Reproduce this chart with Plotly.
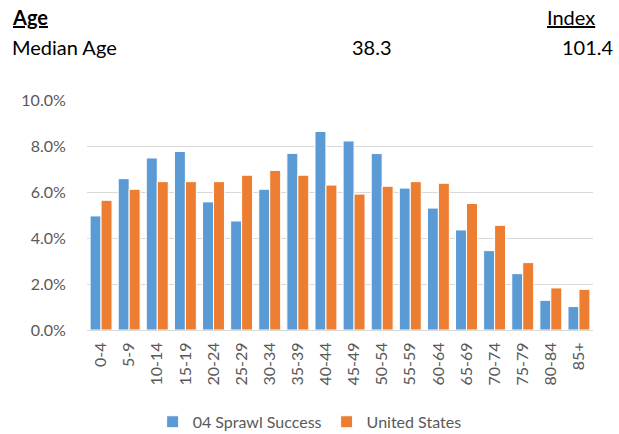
import plotly.graph_objects as go

categories = ["0-4", "5-9", "10-14", "15-19", "20-24", "25-29", "30-34", "35-39", "40-44",
              "45-49", "50-54", "55-59", "60-64", "65-69", "70-74", "75-79", "80-84", "85+"]
sprawl = [4.96, 6.58, 7.48, 7.76, 5.57, 4.74, 6.12, 7.68, 8.63,
          8.22, 7.67, 6.17, 5.30, 4.35, 3.45, 2.45, 1.29, 1.02]
us = [5.64, 6.12, 6.45, 6.45, 6.45, 6.73, 6.94, 6.73, 6.30,
      5.91, 6.25, 6.45, 6.38, 5.50, 4.55, 2.93, 1.83, 1.77]
sprawl = [v / 100 for v in sprawl]
us = [v / 100 for v in us]

series_names = ["04 Sprawl Success", "United States"]
colors = ["#5B9BD5", "#ED7D31"]
median_age = "38.3"
index_val = "101.4"

FONT = "Lato"
GRAY = "#595959"

fig = go.Figure()
for name, vals, c in zip(series_names, [sprawl, us], colors):
    fig.add_trace(go.Bar(x=categories, y=vals, name=name, marker_color=c,
                         marker_line_color="white", marker_line_width=1))

fig.update_layout(
    width=619, height=434,
    margin=dict(l=87, r=26, t=100, b=104, autoexpand=False),
    plot_bgcolor="white", paper_bgcolor="white",
    barmode="group", bargap=0.22, bargroupgap=0.0,
    font=dict(family=FONT, color=GRAY, size=16),
    showlegend=True,
    legend=dict(orientation="h", x=0.44, xanchor="center", yref="container",
                y=0.028, yanchor="middle",
                font=dict(family=FONT, size=16, color=GRAY), itemwidth=30,
                traceorder="normal"),
    xaxis=dict(tickangle=-90, showgrid=False, showline=True, linecolor="#D9D9D9",
               ticks="outside", ticklen=5, tickcolor="rgba(0,0,0,0)", automargin=False,
               tickfont=dict(family=FONT, size=16, color=GRAY)),
    yaxis=dict(range=[0, 0.1], dtick=0.02, tickformat=".1%", showgrid=True,
               gridcolor="#D9D9D9", gridwidth=1, zeroline=False, showline=False,
               ticks="outside", ticklen=17, tickcolor="rgba(0,0,0,0)", automargin=False,
               tickfont=dict(family=FONT, size=16, color=GRAY)),
)

hdr = dict(family=FONT, size=20, color="#000000")
ann = [
    dict(text="<b><u>Age</u></b>", x=-0.152, xanchor="left", y=1.36, yanchor="middle"),
    dict(text="<u>Index</u>", x=1.008, xanchor="right", y=1.36, yanchor="middle"),
    dict(text="Median Age", x=-0.152, xanchor="left", y=1.23, yanchor="middle"),
    dict(text=median_age, x=0.563, xanchor="center", y=1.23, yanchor="middle"),
    dict(text=index_val, x=1.045, xanchor="right", y=1.23, yanchor="middle"),
]
for a in ann:
    fig.add_annotation(xref="paper", yref="paper", showarrow=False, font=hdr, **a)

fig.write_html("out.html", config={"displayModeBar": False},
               post_script="document.body.style.margin='0';")
